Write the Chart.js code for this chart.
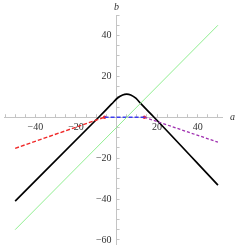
<!DOCTYPE html>
<html>
<head>
<meta charset="utf-8">
<script src="https://cdn.jsdelivr.net/npm/chart.js@4.4.1/dist/chart.umd.min.js"></script>
<style>
  html, body { margin: 0; padding: 0; background: #fff; }
  canvas { display: block; }
</style>
</head>
<body>
<canvas id="chart" width="240" height="248"></canvas>
<script>
// curves (a on x, b on y)
const blackA = [-50, -8.8, -2.4, 0.5, 3, 5, 7, 9.5, 12.1, 18.5, 50];
const blackB = [-41, 0, 6.5, 9.4, 10.9, 11.3, 10.9, 9.3, 6.5, 0, -33.2];
const greenA = [-50, 50];
const greenB = [-55, 45];
const redA = [-50, -5.9];
const redB = [-15.2, 0];
const blueA = [-5.9, 13.7];
const blueB = [0, 0];
const purpleA = [13.7, 50];
const purpleB = [0, -12.2];
const dotA = [-5.9, 13.7];
const dotB = [0, 0];

const xRange = [-55.5, 52];
const yRange = [-62, 50];

const toPts = (xs, ys) => xs.map((v, i) => ({ x: v, y: ys[i] }));
const fmt = v => (v < 0 ? '\u2212' + (-v) : String(v));

const AXIS_GRAY = '#c4c4c4';
const LABEL_FONT = { family: '"Liberation Serif", "DejaVu Serif", serif', size: 10 };

// move the two scales so they cross at the origin
const originAxes = {
    id: 'originAxes',
    afterLayout(chart) {
        const { x, y } = chart.scales;
        const x0 = x.getPixelForValue(0);
        const y0 = y.getPixelForValue(0);
        y.left = x0 - 40; y.right = x0; y.width = 40;
        x.top = y0; x.bottom = y0 + 20; x.height = 20;
    },
    afterDraw(chart) {
        const { ctx, scales: { x, y } } = chart;
        ctx.save();
        ctx.fillStyle = '#333';
        ctx.font = 'italic 10px "Liberation Serif", serif';
        ctx.textBaseline = 'middle';
        ctx.textAlign = 'center';
        ctx.fillText('b', x.getPixelForValue(0), 7);
        ctx.textAlign = 'left';
        ctx.fillText('a', x.right + 8, y.getPixelForValue(0));
        ctx.restore();
    }
};

const lineSet = (xs, ys, color, width, dash) => ({
    data: toPts(xs, ys),
    showLine: true,
    borderColor: color,
    borderWidth: width,
    borderDash: dash || [],
    pointRadius: 0,
    fill: false
});

// scales take no room, the chart area comes from layout padding only
const flatten = s => {
    s.paddingLeft = s.paddingRight = s.paddingTop = s.paddingBottom = 0;
    if (s.isHorizontal()) s.height = 0; else s.width = 0;
};

const tickColor = c => (c.tick && c.tick.value % 5 === 0 ? AXIS_GRAY : 'rgba(0,0,0,0)');

new Chart(document.getElementById('chart').getContext('2d'), {
    type: 'scatter',
    data: {
        datasets: [
            lineSet(greenA, greenB, '#90ee90', 1),
            lineSet(redA, redB, '#f02828', 1.4, [4, 2]),
            lineSet(blueA, blueB, '#3c3cf0', 1.4, [4, 2]),
            lineSet(purpleA, purpleB, '#a030b0', 1.3, [3, 2]),
            Object.assign(lineSet(blackA, blackB, '#000', 1.7), { cubicInterpolationMode: 'monotone' }),
            {
                data: toPts(dotA, dotB),
                showLine: false,
                pointRadius: 1.8,
                pointBackgroundColor: '#f02828',
                pointBorderWidth: 0
            }
        ]
    },
    options: {
        responsive: false,
        animation: false,
        layout: { padding: { left: 0, right: 18, top: 15, bottom: 3 } },
        plugins: { legend: { display: false }, tooltip: { enabled: false } },
        scales: {
            x: {
                type: 'linear',
                position: 'bottom',
                min: xRange[0],
                max: xRange[1],
                afterFit: flatten,
                border: { display: true, color: AXIS_GRAY, width: 1 },
                grid: { drawOnChartArea: false, tickLength: -3, tickColor },
                ticks: {
                    stepSize: 5,
                    includeBounds: false,
                    autoSkip: false,
                    maxRotation: 0,
                    padding: 7,
                    color: '#333',
                    font: LABEL_FONT,
                    callback: v => (v % 20 === 0 && v !== 0 ? fmt(v) : '')
                }
            },
            y: {
                type: 'linear',
                position: 'left',
                min: yRange[0],
                max: yRange[1],
                afterFit: flatten,
                border: { display: true, color: AXIS_GRAY, width: 1 },
                grid: { drawOnChartArea: false, tickLength: -3, tickColor },
                ticks: {
                    stepSize: 5,
                    includeBounds: false,
                    autoSkip: false,
                    padding: 8,
                    color: '#333',
                    font: LABEL_FONT,
                    callback: v => (v % 20 === 0 && v !== 0 ? fmt(v) : '')
                }
            }
        }
    },
    plugins: [originAxes]
});
</script>
</body>
</html>
